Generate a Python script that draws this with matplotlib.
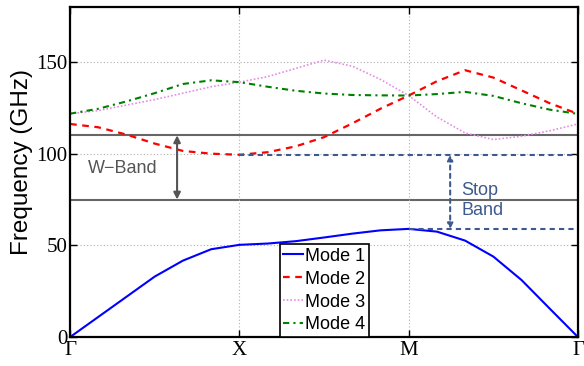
import numpy as np
import matplotlib
matplotlib.use('Agg')
import matplotlib.pyplot as plt

# wave-vector positions along Gamma-X-M-Gamma (steps of 1/6)
k = np.arange(19) / 6.0
k_ticks = [0, 1, 2, 3]
k_labels = ['\u0393', 'X', 'M', '\u0393']

mode1 = [0, 11, 22, 33, 41.7, 47.9, 50.3, 51.0, 52.3, 54.3, 56.4, 58.2, 59.0,
         57.5, 52.6, 43.9, 31.1, 15.5, 0]
mode2 = [116.2, 114.4, 110.4, 105.5, 101.5, 100.0, 99.4, 100.8, 104.0, 109.0,
         116.5, 124.5, 131.7, 139.5, 145.5, 141.5, 134.5, 127.5, 121.7]
mode3 = [121.8, 123.5, 126.5, 129.5, 133.0, 136.5, 139.0, 142.0, 146.5, 151.0,
         147.7, 140.5, 131.7, 120.0, 111.3, 107.7, 109.5, 112.5, 116.2]
mode4 = [121.8, 124.5, 128.5, 133.0, 138.0, 140.0, 139.0, 136.5, 134.3, 132.8,
         132.0, 131.8, 131.7, 132.5, 133.7, 131.5, 127.5, 124.0, 121.7]

w_band = [75, 110]
stop_band = [58.9, 99.4]

fig = plt.figure(figsize=(5.84, 3.66), dpi=100)
ax = fig.add_axes([0.12, 0.079, 0.8697, 0.902])

l1, = ax.plot(k, mode1, color='blue', lw=1.5, label='Mode 1')
l2, = ax.plot(k, mode2, color='red', lw=1.6, ls=(0, (3, 2.5)), label='Mode 2')
l3, = ax.plot(k, mode3, color='#e58ce5', lw=1.2, ls=(0, (1, 1.2)), label='Mode 3')
l4, = ax.plot(k, mode4, color='green', lw=1.5, ls=(0, (3, 2, 1, 2)), label='Mode 4')

# W-band limits
for f in w_band:
    ax.axhline(f, color='#666666', lw=1.5, zorder=1)
ax.annotate('', xy=(0.632, w_band[0]), xytext=(0.632, w_band[1]),
            arrowprops=dict(arrowstyle='<|-|>', color='#555555', lw=1.5,
                            mutation_scale=10, shrinkA=0, shrinkB=0))
ax.text(0.31, 92, 'W\u2212Band', color='#555555', fontsize=13,
        family='Liberation Sans', ha='center', va='center')

# stop band
sb_col = '#3d5a8e'
ax.plot([1, 3], [stop_band[1]] * 2, color=sb_col, lw=1.5, ls=(0, (2.5, 2)))
ax.plot([2, 3], [stop_band[0]] * 2, color=sb_col, lw=1.5, ls=(0, (2.5, 2)))
ax.annotate('', xy=(2.245, stop_band[0]), xytext=(2.245, stop_band[1]),
            arrowprops=dict(arrowstyle='<|-|>', color=sb_col, lw=1.5, ls=(0, (2, 2)),
                            mutation_scale=8, shrinkA=0, shrinkB=0))
ax.text(2.31, 74.5, 'Stop\nBand', color=sb_col, fontsize=13,
        family='Liberation Sans', ha='left', va='center', linespacing=1.2)

ax.set_xlim(0, 3)
ax.set_ylim(0, 180)
ax.set_xticks(k_ticks)
ax.set_xticklabels(k_labels)
ax.set_yticks([0, 50, 100, 150])
ax.grid(True, color='#b0b0b0', ls=(0, (1, 2)), lw=0.8)
ax.tick_params(direction='in', top=True, right=True, length=5, width=1,
               labelsize=15, pad=2)
ax.tick_params(axis='x', pad=3)
for lab in ax.get_xticklabels() + ax.get_yticklabels():
    lab.set_family('Liberation Serif')
for s in ax.spines.values():
    s.set_linewidth(1.6)
ax.set_ylabel('Frequency (GHz)', fontsize=17.5, family='Liberation Sans')
ax.yaxis.set_label_coords(-0.073, 0.53)

leg = ax.legend(handles=[l1, l2, l3, l4], loc='lower center', bbox_to_anchor=(0.5, 0),
                borderaxespad=0, fancybox=False, framealpha=1, edgecolor='black',
                prop=dict(family='Liberation Sans', size=13), handlelength=1.1,
                handletextpad=0.1, labelspacing=0.33, borderpad=0.2)
leg.get_frame().set_linewidth(1.2)

fig.savefig('out.png', dpi=100)
